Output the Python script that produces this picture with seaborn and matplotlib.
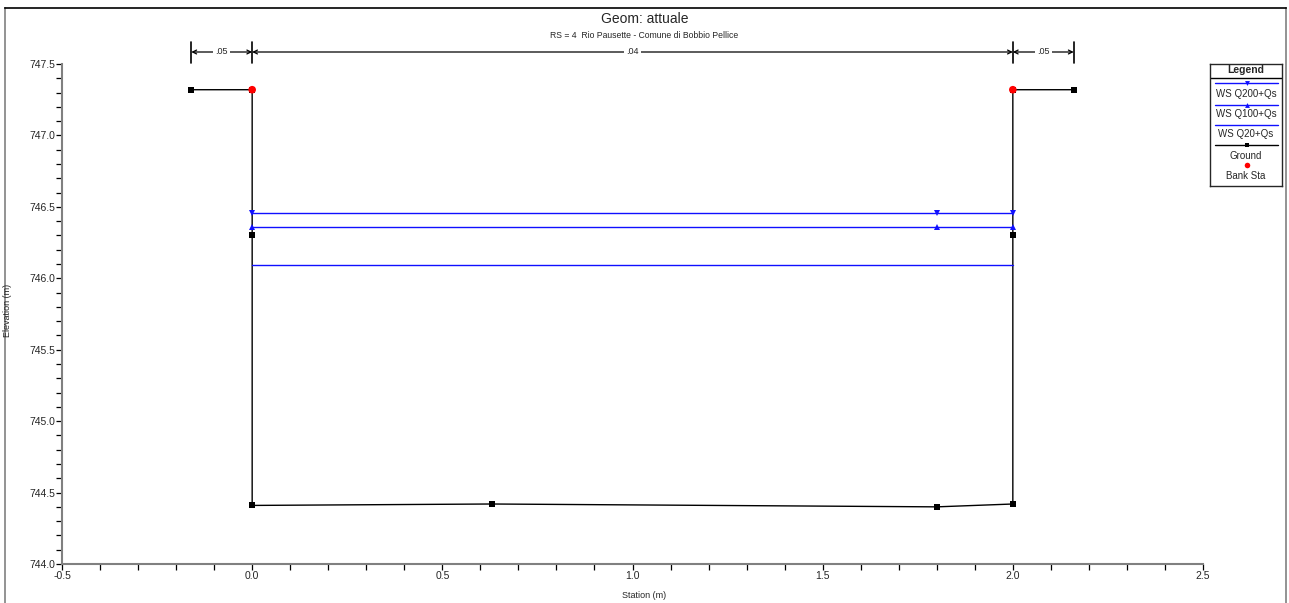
import matplotlib
matplotlib.use("Agg")
import matplotlib.pyplot as plt
import matplotlib.transforms as mtransforms
from matplotlib.ticker import MultipleLocator
import pandas as pd
import seaborn as sns

# ground profile (station, elevation)
ground_sta = [-0.16, 0.0, 0.0, 0.0, 0.63, 1.80, 2.0, 2.0, 2.0, 2.16]
ground_elev = [747.32, 747.32, 746.30, 744.41, 744.42, 744.40, 744.42, 746.30, 747.32, 747.32]

# bank stations
bank_sta = [0.0, 2.0]
bank_elev = [747.32, 747.32]

# water surfaces
ws_names = ["WS Q200+Qs", "WS Q100+Qs", "WS Q20+Qs"]
ws_elev = [746.46, 746.36, 746.09]
ws_sta = [0.0, 1.80, 2.0]
ws_markers = ["v", "^", None]

# manning's n
n_breaks = [-0.16, 0.0, 2.0, 2.16]
n_values = [".05", ".04", ".05"]

sns.set_style("white")
plt.rcParams["font.family"] = ["Liberation Sans", "DejaVu Sans"]

fig = plt.figure(figsize=(12.89, 6.03), dpi=100)
ax = fig.add_axes([62 / 1289, 1 - 564 / 603, (1203 - 62) / 1289, 500 / 603])

df_ground = pd.DataFrame({"sta": ground_sta, "elev": ground_elev})
sns.lineplot(data=df_ground, x="sta", y="elev", sort=False, estimator=None, ax=ax,
             color="black", lw=1, marker="s", markersize=4, markeredgewidth=0, zorder=3)

for name, elev, mk in zip(ws_names, ws_elev, ws_markers):
    df_ws = pd.DataFrame({"sta": ws_sta, "elev": [elev] * len(ws_sta)})
    sns.lineplot(data=df_ws, x="sta", y="elev", estimator=None, ax=ax, color="#1010ff",
                 lw=1, marker=mk, markersize=4, markeredgewidth=0, zorder=4)

sns.scatterplot(x=bank_sta, y=bank_elev, ax=ax, color="red", s=30, edgecolor="none", zorder=5)

ax.set_xlim(-0.5, 2.5)
ax.set_ylim(744.0, 747.5)
ax.xaxis.set_major_locator(MultipleLocator(0.5))
ax.xaxis.set_minor_locator(MultipleLocator(0.1))
ax.yaxis.set_major_locator(MultipleLocator(0.5))
ax.yaxis.set_minor_locator(MultipleLocator(0.1))
ax.xaxis.set_major_formatter(lambda v, p: f"{v:.1f}")
ax.yaxis.set_major_formatter(lambda v, p: f"{v:.1f}")
for s in ["top", "right"]:
    ax.spines[s].set_visible(False)
for s in ["left", "bottom"]:
    ax.spines[s].set_color("#808080")
    ax.spines[s].set_linewidth(1.5)
ax.tick_params(which="both", direction="out", length=4, width=0.9, color="black",
               labelsize=7.5, pad=1, left=True, bottom=True)
ax.set_xlabel("")
ax.set_ylabel("")
fig.text(0.5, 1 - 596 / 603, "Station (m)", ha="center", va="center", fontsize=6.5)
fig.text(8 / 1289, 1 - 310 / 603, "Elevation (m)", rotation=90, fontsize=6.5,
         ha="center", va="center")

# manning's n markers above the plot
trans = mtransforms.blended_transform_factory(ax.transData, ax.transAxes)
for b in n_breaks:
    ax.plot([b, b], [1.002, 1.044], transform=trans, color="black", lw=1.2, clip_on=False)
for i, lab in enumerate(n_values):
    x0, x1 = n_breaks[i], n_breaks[i + 1]
    ax.annotate("", xy=(x0, 1.024), xytext=(x1, 1.024), xycoords=trans, textcoords=trans,
                arrowprops=dict(arrowstyle="<->", lw=0.9, color="black",
                                shrinkA=0, shrinkB=0, mutation_scale=7))
    ax.text((x0 + x1) / 2, 1.024, lab, transform=trans, ha="center", va="center",
            fontsize=6.5, bbox=dict(fc="white", ec="none", pad=1.5))

fig.text(0.5, 1 - 19 / 603, "Geom: attuale", ha="center", va="center", fontsize=10)
fig.text(0.5, 1 - 36 / 603, "RS = 4  Rio Pausette - Comune di Bobbio Pellice",
         ha="center", va="center", fontsize=6.2)

# outer frame
frame = fig.add_axes([5 / 1289, -0.1, (1286 - 5) / 1289, 1.1 - 8 / 603], zorder=-1)
frame.set_xticks([])
frame.set_yticks([])
frame.patch.set_alpha(0)
for s in frame.spines.values():
    s.set_color("black")
    s.set_linewidth(1.2)
frame.spines["left"].set_color("#808080")
frame.spines["right"].set_color("#808080")

# legend box
lg = fig.add_axes([1210 / 1289, 1 - 186 / 603, 72 / 1289, 122 / 603])
lg.set_xlim(0, 1)
lg.set_ylim(122, 0)
lg.set_xticks([])
lg.set_yticks([])
for s in lg.spines.values():
    s.set_linewidth(1)
lg.text(0.5, 6, "Legend", ha="center", va="center", fontsize=7.5, fontweight="bold")
lg.plot([0, 1], [14, 14], color="black", lw=1)
rows = [(19, 30, "#1010ff", "v", ws_names[0]),
        (41, 50, "#1010ff", "^", ws_names[1]),
        (61, 70, "#1010ff", None, ws_names[2]),
        (81, 92, "black", "s", "Ground")]
for ly, ty, c, mk, lab in rows:
    lg.plot([0.07, 0.95], [ly, ly], color=c, lw=1)
    if mk:
        lg.plot([0.51], [ly], marker=mk, color=c, markersize=3.5, markeredgewidth=0)
    lg.text(0.5, ty, lab, ha="center", va="center", fontsize=7)
lg.plot([0.51], [101], marker="o", color="red", markersize=4, markeredgewidth=0)
lg.text(0.5, 112, "Bank Sta", ha="center", va="center", fontsize=7)

fig.savefig("out.png", dpi=100)
